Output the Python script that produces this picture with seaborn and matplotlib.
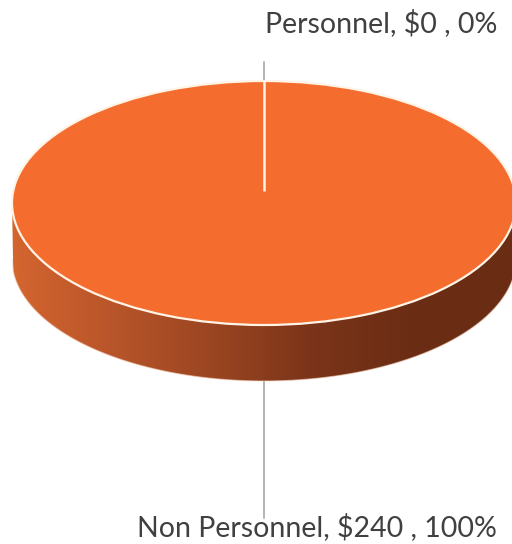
import numpy as np
import matplotlib
matplotlib.use("Agg")
import matplotlib.pyplot as plt
from matplotlib.colors import LinearSegmentedColormap
from matplotlib.path import Path
from matplotlib.patches import PathPatch
import seaborn as sns

categories = ["Personnel", "Non Personnel"]
values = [0, 240]
top_color = "#F46D2F"
side_stops = ["#D4652F", "#B8552A", "#9A4521", "#7A3419", "#6A2D14", "#6A2D14"]

sns.set_theme(style="white")
plt.rcParams["font.family"] = ["Lato", "DejaVu Sans"]

W, H = 512, 544
fig = plt.figure(figsize=(W / 100, H / 100), dpi=100)
ax = fig.add_axes([0, 0, 1, 1])

# pixel geometry of the squashed disc
cx, cy, rx, ry, depth_px = 264, 203, 252, 122, 56
depth = depth_px / ry


def px(x, y):
    return ((x - cx) / rx, (cy - y) / ry)


x0, y0 = px(0, H)
x1, y1 = px(W, 0)

total = sum(values)

# side wall of the disc with a left-to-right shading gradient
xs = np.linspace(-1, 1, 400)
upper = -np.sqrt(np.clip(1 - xs ** 2, 0, None))
lower = upper - depth
verts = np.concatenate([np.column_stack([xs, upper]),
                        np.column_stack([xs[::-1], lower[::-1]])])
wall = PathPatch(Path(verts, closed=True), facecolor="none", edgecolor="none")
ax.add_patch(wall)
cmap = LinearSegmentedColormap.from_list("wall", side_stops)
grad = np.linspace(0, 1, 256).reshape(1, -1)
img = ax.imshow(grad, cmap=cmap, extent=[-1, 1, -1 - depth, 0],
                aspect="auto", zorder=1)
img.set_clip_path(wall)
ax.plot(xs, lower, color="#f3d2bf", lw=0.8, zorder=1.5, alpha=0.6)

# top face
wedges, _ = ax.pie(values, startangle=90, counterclock=False,
                   colors=[top_color, top_color], radius=1,
                   wedgeprops=dict(edgecolor="#fff4e6", linewidth=1.6))
for w in wedges:
    w.set_zorder(2)

# slice boundary at the start angle (the zero-sized slice sits on it)
start = np.deg2rad(90)
ax.plot([0, np.cos(start)], [0.1, np.sin(start)], color="#fff4e6",
        lw=1.8, zorder=2.5, solid_capstyle="butt")

ax.set_aspect("auto")
ax.set_xlim(x0, x1)
ax.set_ylim(y0, y1)
ax.axis("off")

# leader lines and labels
lc = "#a6a6a6"
tx, ty = px(264, 62)
ax.plot([0, 0], [1, ty], color=lc, lw=1.2, zorder=0.5)
bx, by = px(264, 518)
ax.plot([0, 0], [-1 - depth, by], color=lc, lw=1.2, zorder=0.5)

for name, v, (lx, ly) in zip(categories, values, [(497, 23), (497, 527)]):
    pct = v / total * 100
    px_, py_ = px(lx, ly)
    ax.text(px_, py_, f"{name}, ${v:,.0f} , {pct:.0f}%", ha="right", va="center",
            fontsize=20.5, color="#404040", zorder=3)

fig.savefig("out.png", dpi=100)
